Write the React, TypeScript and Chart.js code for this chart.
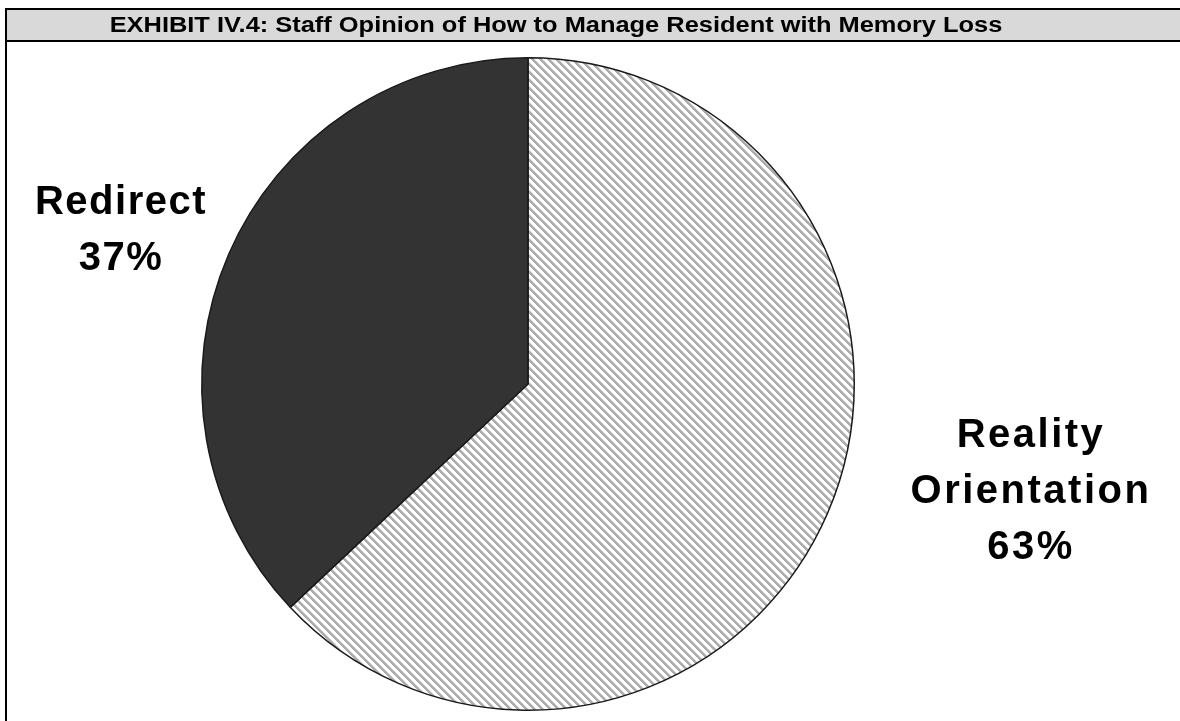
import React, { useEffect, useRef } from "react";
import { Chart, registerables } from "chart.js";

Chart.register(...registerables);

const TITLE = "EXHIBIT IV.4: Staff Opinion of How to Manage Resident with Memory Loss";
const categories = ["Reality Orientation", "Redirect"];
const values = [63, 37];
const labelCenterX = [1031, 121];
const labelFirstBaseline = [447, 214];
const labelSpacing = ["2.5px", "1.5px"];
const labelLineGap = 56;

function makeHatch(): CanvasPattern | string {
  const s = 8;
  const c = document.createElement("canvas");
  c.width = s;
  c.height = s;
  const ctx = c.getContext("2d");
  if (!ctx) return "#ccc";
  const img = ctx.createImageData(s, s);
  for (let y = 0; y < s; y++) {
    for (let x = 0; x < s; x++) {
      const k = (((x - y) % s) + s) % s;
      let v = 255;
      if (k === 0 || k === 1 || k === 2) v = 172;
      else if (k === 3) v = 210;
      const i = (y * s + x) * 4;
      img.data[i] = v;
      img.data[i + 1] = v;
      img.data[i + 2] = v;
      img.data[i + 3] = 255;
    }
  }
  ctx.putImageData(img, 0, 0);
  const main = document.createElement("canvas").getContext("2d");
  const p = main ? main.createPattern(c, "repeat") : null;
  return p || "#ccc";
}

const labelPlugin = {
  id: "sliceLabels",
  afterDraw(chart: any) {
    const ctx = chart.ctx as CanvasRenderingContext2D;
    categories.forEach((cat, i) => {
      ctx.save();
      ctx.fillStyle = "#000";
      ctx.textAlign = "center";
      ctx.textBaseline = "alphabetic";
      ctx.font = 'bold 40px "Liberation Sans", Arial, sans-serif';
      try {
        (ctx as any).letterSpacing = labelSpacing[i];
      } catch (e) {}
      const lines = [...cat.split(" "), `${values[i]}%`];
      lines.forEach((ln, j) => {
        ctx.fillText(ln, labelCenterX[i], labelFirstBaseline[i] + j * labelLineGap);
      });
      ctx.restore();
    });
  },
};

export default function App() {
  const ref = useRef<HTMLCanvasElement>(null);
  useEffect(() => {
    document.body.style.margin = "0";
    if (!ref.current) return;
    const hatch = makeHatch();
    const chart = new Chart(ref.current, {
      type: "pie",
      data: {
        labels: categories,
        datasets: [
          {
            data: values,
            backgroundColor: [hatch as any, "#333333"],
            borderColor: "#1a1a1a",
            borderWidth: 1.5,
          },
        ],
      },
      options: {
        animation: false,
        responsive: false,
        maintainAspectRatio: false,
        layout: { padding: { left: 201, right: 325, top: 57, bottom: 10 } },
        plugins: {
          legend: { display: false },
          tooltip: { enabled: false },
          title: { display: false },
        },
      },
      plugins: [labelPlugin],
    });
    return () => chart.destroy();
  }, []);

  return (
    <div
      style={{
        position: "absolute",
        left: 0,
        top: 0,
        width: 1180,
        height: 721,
        overflow: "hidden",
        background: "#fff",
      }}
    >
      <canvas
        ref={ref}
        width={1180}
        height={721}
        style={{ position: "absolute", left: 0, top: 0, width: 1180, height: 721 }}
      />
      <div
        style={{
          position: "absolute",
          left: 5,
          top: 8,
          width: 1300,
          height: 900,
          border: "2px solid #000",
          pointerEvents: "none",
        }}
      />
      <div
        style={{
          position: "absolute",
          left: 7,
          top: 10,
          width: 1300,
          height: 30,
          background: "#d9d9d9",
          borderBottom: "2px solid #000",
        }}
      />
      <div
        style={{
          position: "absolute",
          left: 0,
          top: 10,
          width: 1112,
          height: 30,
          lineHeight: "30px",
          textAlign: "center",
          fontFamily: '"Liberation Sans", Arial, sans-serif',
          fontWeight: "bold",
          fontSize: 22,
          color: "#000",
          whiteSpace: "nowrap",
          transform: "scaleX(1.155)",
          transformOrigin: "556px 50%",
        }}
      >
        {TITLE}
      </div>
    </div>
  );
}
